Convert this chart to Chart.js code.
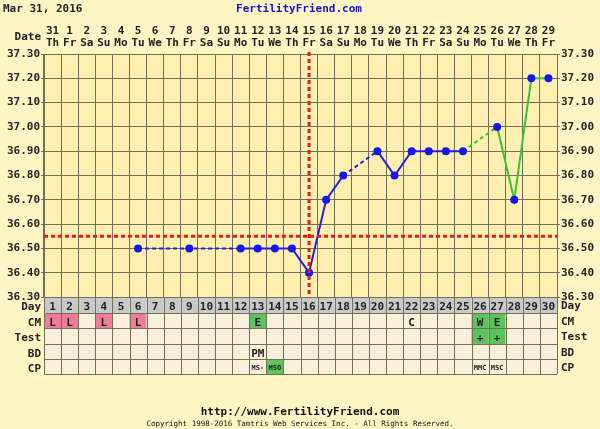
<!DOCTYPE html>
<html>
<head>
<meta charset="utf-8">
<script src="https://cdn.jsdelivr.net/npm/chart.js@4/dist/chart.umd.min.js"></script>
<style>
  html, body { margin: 0; padding: 0; background: #FFF5C4; }
  canvas { display: block; }
</style>
</head>
<body>
<canvas id="bbtChart" width="600" height="429"></canvas>
<script>
// cycle days and the calendar dates under them
const cycleDays = [1,2,3,4,5,6,7,8,9,10,11,12,13,14,15,16,17,18,19,20,21,22,23,24,25,26,27,28,29,30];
const dates = ['31','1','2','3','4','5','6','7','8','9','10','11','12','13','14','15','16','17','18','19','20','21','22','23','24','25','26','27','28','29'];
const weekdays = ['Th','Fr','Sa','Su','Mo','Tu','We','Th','Fr','Sa','Su','Mo','Tu','We','Th','Fr','Sa','Su','Mo','Tu','We','Th','Fr','Sa','Su','Mo','Tu','We','Th','Fr'];

// temperatures (null = not recorded)
const temps = [null,null,null,null,null,36.50,null,null,36.50,null,null,36.50,36.50,36.50,36.50,36.40,36.70,36.80,null,36.90,36.80,36.90,36.90,36.90,36.90,null,37.00,36.70,37.20,37.20];
const tempTicks = ['36.30','36.40','36.50','36.60','36.70','36.80','36.90','37.00','37.10','37.20','37.30'];
const coverline = 36.55;
const ovulationDay = 16;
const lastBlueDay = 25;

// observation rows
const cmRow   = ['L','L','','L','','L','','','','','','','E','','','','','','','','','C','','','','W','E','','',''];
const testRow = ['','','','','','','','','','','','','','','','','','','','','','','','','','+','+','','',''];
const bdRow   = ['','','','','','','','','','','','','PM','','','','','','','','','','','','','','','','',''];
const cpRow   = ['','','','','','','','','','','','','MS-','MSO','','','','','','','','','','','','MMC','MSC','','',''];

const FONT = 'DejaVu Sans Mono';
const GRID = '#747058';
const PINK = '#F07C99';
const GREEN = '#5DC45D';
const cellFill = { L: PINK, E: GREEN, W: GREEN, '+': GREEN, MSO: GREEN };

const decorations = {
  id: 'decorations',
  beforeDraw(chart) {
    const { ctx, chartArea: a } = chart;
    ctx.save();
    ctx.fillStyle = '#FFF5C4';
    ctx.fillRect(0, 0, chart.width, chart.height);
    ctx.fillStyle = '#FFF0B2';
    ctx.fillRect(a.left, a.top, a.right - a.left, a.bottom - a.top);
    ctx.restore();
  },
  afterDatasetsDraw(chart) {
    const { ctx, chartArea: a, scales } = chart;
    const yc = scales.y.getPixelForValue(coverline);
    const xo = scales.x.getPixelForValue(ovulationDay - 1);
    ctx.save();
    ctx.strokeStyle = '#E01E1E';
    ctx.lineWidth = 3;
    ctx.setLineDash([4, 3]);
    ctx.beginPath();
    ctx.moveTo(a.left, yc);
    ctx.lineTo(a.right, yc);
    ctx.moveTo(xo, a.top - 2);
    ctx.lineTo(xo, a.bottom);
    ctx.stroke();
    ctx.restore();
  },
  afterDraw(chart) {
    const { ctx, chartArea: a, scales } = chart;
    const colW = (a.right - a.left) / cycleDays.length;
    ctx.save();
    ctx.textBaseline = 'middle';

    // header
    ctx.font = 'bold 11px ' + FONT;
    ctx.fillStyle = '#222';
    ctx.textAlign = 'left';
    ctx.fillText('Mar 31, 2016', 3, 9);
    ctx.fillStyle = '#1414C8';
    ctx.textAlign = 'center';
    ctx.fillText('FertilityFriend.com', 299, 9);
    ctx.fillStyle = '#222';
    ctx.textAlign = 'right';
    ctx.fillText('Date', 41, 37);

    // table
    const edges = [a.bottom, 313, 328, 344, 359, 374];
    const rows = [
      { name: 'Day', cells: cycleDays.map(String) },
      { name: 'CM', cells: cmRow },
      { name: 'Test', cells: testRow },
      { name: 'BD', cells: bdRow },
      { name: 'CP', cells: cpRow, small: true }
    ];
    rows.forEach((row, r) => {
      const top = edges[r], bot = edges[r + 1], mid = (top + bot) / 2 + 2.5;
      row.cells.forEach((txt, i) => {
        const cx = scales.x.getPixelForValue(i);
        const left = cx - colW / 2;
        ctx.fillStyle = r === 0 ? '#C9C9C9' : (cellFill[txt] || '#F8F0DA');
        ctx.fillRect(left, top, colW, bot - top);
        if (txt) {
          ctx.fillStyle = '#222';
          ctx.textAlign = 'center';
          const small = row.small && txt.length > 2;
          ctx.font = small ? 'bold 7px ' + FONT : 'bold 11px ' + FONT;
          ctx.fillText(txt, cx, small ? mid - 1 : mid);
        }
      });
      ctx.font = 'bold 11px ' + FONT;
      ctx.fillStyle = '#222';
      ctx.textAlign = 'right';
      ctx.fillText(row.name, 41, mid);
      ctx.textAlign = 'left';
      ctx.fillText(row.name, 561, mid - 1);
    });
    ctx.strokeStyle = GRID;
    ctx.lineWidth = 1;
    ctx.beginPath();
    edges.forEach(y => {
      const yy = Math.round(y) + 0.5;
      ctx.moveTo(a.left, yy);
      ctx.lineTo(a.right, yy);
    });
    for (let i = 0; i <= cycleDays.length; i++) {
      const xx = Math.round(a.left + i * colW) + 0.5;
      ctx.moveTo(xx, edges[0]);
      ctx.lineTo(xx, edges[edges.length - 1]);
    }
    ctx.stroke();

    // footer
    ctx.fillStyle = '#111';
    ctx.textAlign = 'center';
    ctx.font = 'bold 11px ' + FONT;
    ctx.fillText('http://www.FertilityFriend.com', 300, 412);
    ctx.font = '7.5px ' + FONT;
    ctx.fillText('Copyright 1998-2016 Tamtris Web Services Inc. - All Rights Reserved.', 300, 424);
    ctx.restore();
  }
};

const tickFont = { family: FONT, size: 11, weight: 'bold', lineHeight: 1.1 };
const yLabel = v => {
  const s = v.toFixed(2);
  return tempTicks.includes(s) ? s : '';
};

new Chart(document.getElementById('bbtChart'), {
  type: 'line',
  data: {
    labels: cycleDays,
    datasets: [{
      data: temps,
      spanGaps: true,
      borderColor: '#2020E0',
      borderWidth: 2,
      pointRadius: 4,
      pointBackgroundColor: '#1515F0',
      pointBorderColor: '#1515F0',
      pointBorderWidth: 0,
      tension: 0,
      segment: {
        borderDash: c => (c.p0.skip || c.p1.skip) ? [4, 3] : undefined,
        borderColor: c => c.p1DataIndex >= lastBlueDay ? '#33C633' : undefined
      }
    }]
  },
  options: {
    responsive: false,
    animation: false,
    layout: { padding: { top: 0, left: 0, right: 0, bottom: 132 } },
    plugins: { legend: { display: false }, tooltip: { enabled: false } },
    scales: {
      x: {
        position: 'top',
        offset: true,
        afterFit: s => { s.height = 54; },
        grid: { offset: true, color: GRID, drawTicks: false },
        border: { color: GRID },
        ticks: {
          autoSkip: false, maxRotation: 0, padding: 5, color: '#222', font: tickFont,
          callback: (v, i) => [dates[i], weekdays[i]]
        }
      },
      y: {
        position: 'left',
        min: 36.3, max: 37.3,
        afterFit: s => { s.width = 44; },
        grid: { color: GRID, tickLength: 3 },
        border: { color: GRID },
        ticks: { stepSize: 0.05, maxTicksLimit: 40, padding: 1, color: '#222', font: tickFont, callback: yLabel }
      },
      y2: {
        position: 'right',
        min: 36.3, max: 37.3,
        afterFit: s => { s.width = 43; },
        grid: { drawOnChartArea: false, color: GRID, tickLength: 3 },
        border: { color: GRID },
        ticks: { stepSize: 0.05, maxTicksLimit: 40, padding: 1, color: '#222', font: tickFont, callback: yLabel }
      }
    }
  },
  plugins: [decorations]
});
</script>
</body>
</html>
